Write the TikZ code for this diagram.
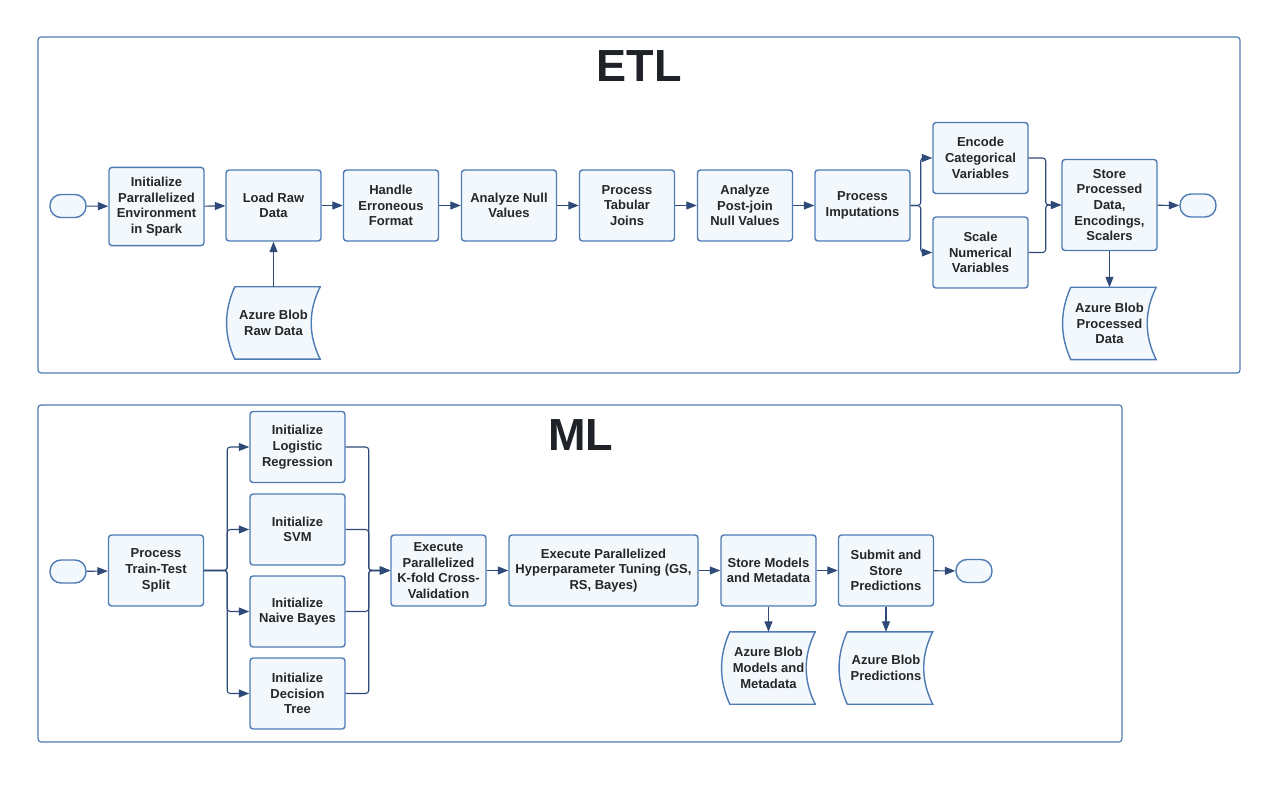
\documentclass[tikz,border=0pt]{standalone}
\usepackage{fontspec}
\setmainfont{Liberation Sans}
\usetikzlibrary{arrows.meta,calc,backgrounds}

\definecolor{boxline}{HTML}{4E7BB4}
\definecolor{boxfill}{HTML}{F3F8FD}
\definecolor{arrline}{HTML}{2E4A78}
\definecolor{titletext}{HTML}{1F2328}

\tikzset{
  stage/.style={draw=boxline, fill=boxfill, line width=1.4pt, rounded corners=3pt,
    minimum width=95pt, minimum height=71pt, inner xsep=2pt, inner ysep=9.5pt,
    align=center, font=\bfseries\fontsize{13}{15.7}\selectfont, text=black!85},
  term/.style={draw=boxline, fill=boxfill, line width=1.4pt, rounded corners=11pt,
    minimum width=36pt, minimum height=23pt, inner sep=0pt},
  blob/.style={minimum width=93pt, minimum height=72pt, inner sep=0pt,
    align=center, font=\bfseries\fontsize{13}{15.7}\selectfont, text=black!85},
  blobline/.style={draw=boxline, fill=boxfill, line width=1.4pt},
  flow/.style={draw=arrline, line width=1.1pt, -{Triangle[length=10.5pt,width=8pt]}},
  panel/.style={draw=boxline, line width=1.2pt, rounded corners=3pt},
  heading/.style={anchor=base, text=titletext, font=\bfseries\fontsize{45}{45}\selectfont},
}

\begin{document}
\begin{tikzpicture}[x=1pt,y=-1pt]
\useasboundingbox (0,0) rectangle (1278,802);

% panels
\draw[panel] (38,37) rectangle (1240,373);
\draw[panel] (38,405) rectangle (1122,742);
\node[heading] (etltitle) at (639,81.7) {ETL};
\node[heading] (mltitle) at (580.5,450) {ML};

% ETL row
\node[term] (etlstart) at (68,206) {};
\node[stage] (initspark) at (156.5,206.5) {Initialize\\Parrallelized\\Environment\\in Spark};
\node[stage] (loadraw) at (273.5,205.5) {Load Raw\\Data};
\node[stage] (handle) at (391,205.5) {Handle\\Erroneous\\Format};
\node[stage] (nullvals) at (509,205.5) {Analyze Null\\Values};
\node[stage] (joins) at (627,205.5) {Process\\Tabular\\Joins};
\node[stage] (postnull) at (745,205.5) {Analyze\\Post-join\\Null Values};
\node[stage] (imput) at (862.5,205.5) {Process\\Imputations};
\node[stage] (encode) at (980.5,158) {Encode\\Categorical\\Variables};
\node[stage] (scale) at (980.5,252.5) {Scale\\Numerical\\Variables};
\node[stage] (storeproc) at (1109.5,205) {Store\\Processed\\Data,\\Encodings,\\Scalers};
\node[term] (etlend) at (1198,205.5) {};
\node[blob] (rawblob) at (273.5,323) {Azure Blob\\Raw Data};
\node[blob] (procblob) at (1109.5,323.5) {Azure Blob\\Processed\\Data};

% ML row
\node[term] (mlstart) at (68,571.5) {};
\node[stage] (split) at (156,570.5) {Process\\Train-Test\\Split};
\node[stage] (logreg) at (297.5,447) {Initialize\\Logistic\\Regression};
\node[stage] (svm) at (297.5,529.5) {Initialize\\SVM};
\node[stage] (bayes) at (297.5,611.5) {Initialize\\Naive Bayes};
\node[stage] (tree) at (297.5,693.5) {Initialize\\Decision\\Tree};
\node[stage, inner ysep=6pt] (kfold) at (438.5,570.5) {Execute\\Parallelized\\K-fold Cross-\\Validation};
\node[stage, minimum width=189pt] (tuning) at (603.5,570.5) {Execute Parallelized\\Hyperparameter Tuning (GS,\\RS, Bayes)};
\node[stage] (storemod) at (768.5,570.5) {Store Models\\and Metadata};
\node[stage] (submit) at (886,570.5) {Submit and\\Store\\Predictions};
\node[term] (mlend) at (974,571) {};
\node[blob] (modblob) at (768.5,668) {Azure Blob\\Models and\\Metadata};
\node[blob] (predblob) at (886,668) {Azure Blob\\Predictions};

% storage outlines
\begin{scope}[on background layer]
\foreach \b in {rawblob,procblob,modblob,predblob}
  \draw[blobline] ($(\b.north west)+(8,0)$) -- (\b.north east)
    .. controls ($(\b.north east)+(-12,24)$) and ($(\b.south east)+(-12,-24)$) .. (\b.south east)
    -- ($(\b.south west)+(8,0)$)
    .. controls ($(\b.south west)+(-3,-24)$) and ($(\b.north west)+(-3,24)$) .. cycle;
\end{scope}

% ETL connectors
\draw[flow] (etlstart) -- (initspark);
\foreach \a/\b in {initspark/loadraw,loadraw/handle,handle/nullvals,nullvals/joins,joins/postnull,postnull/imput,storeproc/etlend}
  \draw[flow] (\a) -- (\b);
\foreach \t in {encode,scale} {
  \draw[flow, rounded corners=3pt] (imput.east) -- ++(10,0) |- (\t.west);
  \draw[flow, rounded corners=3pt] (\t.east) -- ++(17,0) |- (storeproc.west);
}
\draw[flow] (rawblob.north) -- (loadraw.south);
\draw[flow] (storeproc.south) -- (procblob.north);

% ML connectors
\draw[flow] (mlstart) -- (split);
\foreach \t in {logreg,svm,bayes,tree} {
  \draw[flow, rounded corners=3pt] (split.east) -- ++(23,0) |- (\t.west);
  \draw[flow, rounded corners=3pt] (\t.east) -- ++(23,0) |- (kfold.west);
}
\foreach \a/\b in {kfold/tuning,tuning/storemod,storemod/submit,submit/mlend}
  \draw[flow] (\a) -- (\b);
\draw[flow] (storemod.south) -- (modblob.north);
\draw[flow] (submit.south) -- (predblob.north);
\end{tikzpicture}
\end{document}
